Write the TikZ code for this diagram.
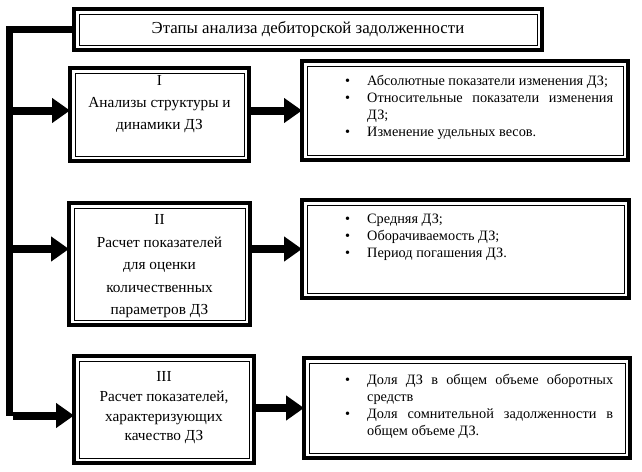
\documentclass[tikz,border=0pt]{standalone}
\usepackage{fontspec}
\setmainfont{Liberation Serif}
\usetikzlibrary{arrows.meta,calc}
\newcommand{\bitem}[1]{\noindent\hangindent=22pt\hangafter=1\makebox[22pt][l]{\textbullet}#1\par}
\begin{document}
\begin{tikzpicture}[x=1pt,y=-1pt,
  box/.style={draw=black,line width=4pt,outer sep=0pt,inner sep=0pt,fill=white},
  innerline/.style={draw=black,line width=0.9pt},
  ltext/.style={align=center,font=\fontsize{15.3}{22}\selectfont,inner sep=0pt},
  ttext/.style={align=center,font=\fontsize{16.8}{23}\selectfont,inner sep=0pt},
  rtext/.style={text width=268pt,align=justify,font=\fontsize{14.3}{17}\selectfont,inner sep=0pt},
  conn/.style={line width=7pt,line join=miter},
  arr/.style={line width=8pt,-{Triangle[length=18pt,width=24pt]}}]
\useasboundingbox (0,0) rectangle (642,471);
% boxes
\node[box,minimum width=468pt,minimum height=41pt] (t) at (308,29.5) {};
\node[box,minimum width=179pt,minimum height=93pt] (a) at (159.5,114.5) {};
\node[box,minimum width=326pt,minimum height=99pt] (ra) at (465,110.5) {};
\node[box,minimum width=181pt,minimum height=122pt] (b) at (159.5,264) {};
\node[box,minimum width=327pt,minimum height=98pt] (rb) at (465.5,249) {};
\node[box,minimum width=180pt,minimum height=107pt] (c) at (164,409.5) {};
\node[box,minimum width=326pt,minimum height=100pt] (rc) at (467,408) {};
\foreach \n in {t,a,ra,b,rb,c,rc}
  \draw[innerline] ([shift={(5pt,-5pt)}]\n.north west) rectangle ([shift={(-5pt,5pt)}]\n.south east);
% texts
\node[ttext] (tt) at (t.center) {Этапы анализа дебиторской задолженности};
\node[ltext,anchor=north] (at) at ([yshift=-7pt]a.north) {I\\Анализы структуры и\\динамики ДЗ};
\node[ltext,font=\fontsize{15.3}{22.5}\selectfont] (bt) at ([yshift=-2.5pt]b.center) {II\\Расчет показателей\\для оценки\\количественных\\параметров ДЗ};
\node[ltext,font=\fontsize{15.3}{19.7}\selectfont] (ct) at ([yshift=1.5pt]c.center) {III\\Расчет показателей,\\характеризующих\\качество ДЗ};
\node[rtext,anchor=north west] (rat) at (345,75) {\bitem{Абсолютные показатели изменения ДЗ;}\bitem{Относительные показатели изменения ДЗ;}\bitem{Изменение удельных весов.}};
\node[rtext,anchor=north west] (rbt) at (345,214) {\bitem{Средняя ДЗ;}\bitem{Оборачиваемость ДЗ;}\bitem{Период погашения ДЗ.}};
\node[rtext,anchor=north west] (rct) at (345,374) {\bitem{Доля ДЗ в общем объеме оборотных средств}\bitem{Доля сомнительной задолженности в общем объеме ДЗ.}};
% connectors
\coordinate (spine) at (9,0);
\draw[conn] (t.west) -- (t.west -| spine) -- ([yshift=-6pt]spine |- c.west);
\draw[arr] ([xshift=3.5pt,yshift=-6pt]spine |- c.west) -- ([yshift=-6pt]c.west);
\draw[arr] ([xshift=3.5pt]spine |- ra.west) -- (a.west |- ra.west);
\draw[arr] ([xshift=3.5pt]spine |- rb.west) -- (b.west |- rb.west);
\draw[arr] (a.east |- ra.west) -- (ra.west);
\draw[arr] (b.east |- rb.west) -- (rb.west);
\draw[arr] (c.east |- rc.west) -- (rc.west);
\end{tikzpicture}
\end{document}
